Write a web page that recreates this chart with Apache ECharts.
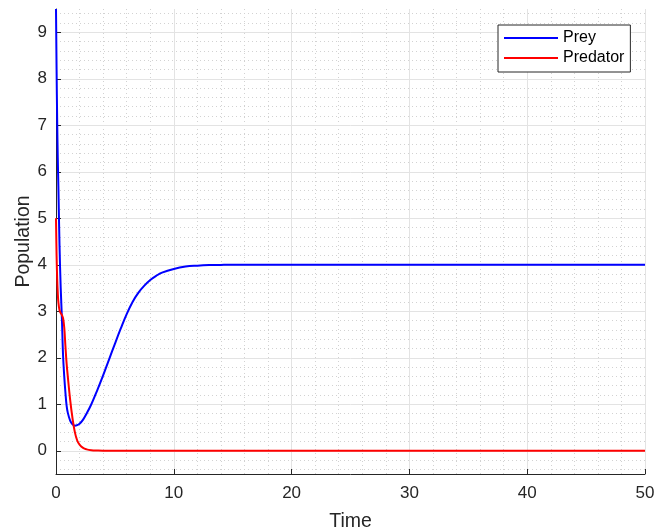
<!DOCTYPE html>
<html>
<head>
<meta charset="utf-8">
<script src="https://cdn.jsdelivr.net/npm/echarts@6/dist/echarts.min.js"></script>
<style>html,body{margin:0;padding:0;background:#fff}#c{width:655px;height:531px}</style>
</head>
<body>
<div id="c"></div>
<script>
const time = [0, 0.05, 0.1, 0.15, 0.2, 0.3, 0.4, 0.5, 0.6, 0.7, 0.8, 0.9, 1.0, 1.2, 1.4, 1.6, 1.8, 2.0, 2.3, 2.6, 3.0, 3.5, 4.0, 4.5, 5.0, 5.5, 6.0, 6.5, 7.0, 7.5, 8.0, 8.5, 9.0, 10, 11, 12, 13, 14, 15, 20, 30, 40, 50];
const prey = [9.5, 8.2, 7.1, 6.3, 5.7, 4.4, 3.5, 2.85, 2.05, 1.6, 1.25, 0.97, 0.82, 0.65, 0.57, 0.54, 0.55, 0.58, 0.67, 0.8, 1.0, 1.3, 1.62, 1.96, 2.3, 2.63, 2.94, 3.2, 3.4, 3.55, 3.67, 3.76, 3.83, 3.91, 3.96, 3.98, 3.992, 3.997, 4.0, 4.0, 4.0, 4.0, 4.0];
const predator = [5, 4.2, 3.7, 3.4, 3.2, 3.02, 2.96, 2.92, 2.85, 2.65, 2.25, 1.88, 1.6, 1.1, 0.7, 0.4, 0.22, 0.13, 0.06, 0.03, 0.012, 0.004, 0, 0, 0, 0, 0, 0, 0, 0, 0, 0, 0, 0, 0, 0, 0, 0, 0, 0, 0, 0, 0];
const seriesNames = ['Prey', 'Predator'];
const xLabel = 'Time';
const yLabel = 'Population';

const txt = '#262626';
const font = 'Liberation Sans, Arial, Helvetica, sans-serif';
const pair = (ys) => time.map((t, i) => [t, ys[i]]);

const chart = echarts.init(document.getElementById('c'), null, {renderer: 'canvas'});
chart.setOption({
  animation: false,
  backgroundColor: '#fff',
  textStyle: {fontFamily: font},
  grid: {left: 56, right: 10, top: 9, bottom: 57, containLabel: false, outerBoundsMode: 'none'},
  legend: {
    orient: 'vertical', left: 498, top: 25,
    icon: 'rect', itemWidth: 54, itemHeight: 2, itemGap: 0,
    padding: [3, 6, 4, 6],
    borderColor: txt, borderWidth: 1, backgroundColor: '#fff',
    textStyle: {fontSize: 16, color: '#000', lineHeight: 20, fontFamily: font},
    data: seriesNames
  },
  xAxis: [{
    type: 'value', min: 0, max: 50, interval: 10, z: 2,
    name: xLabel, nameLocation: 'middle', nameGap: 38, nameMoveOverlap: false,
    nameTextStyle: {fontSize: 19.5, color: txt, fontFamily: font},
    axisLine: {onZero: false, lineStyle: {color: txt, width: 1}},
    axisTick: {inside: true, length: 5, lineStyle: {color: txt}},
    axisLabel: {fontSize: 17, color: txt, margin: 11, fontFamily: font},
    splitLine: {show: true, lineStyle: {color: '#e3e3e3', width: 1}}
  }, {
    type: 'value', min: 0, max: 50, interval: 2, z: 0, position: 'bottom',
    axisLine: {show: false}, axisTick: {show: false}, axisLabel: {show: false},
    splitLine: {show: true, showMinLine: false, lineStyle: {color: '#d2d2d2', width: 1, type: [1, 3]}}
  }],
  yAxis: [{
    type: 'value', min: -0.5, max: 9.5, minInterval: 1, maxInterval: 1, z: 2,
    name: yLabel, nameLocation: 'middle', nameGap: 22, nameMoveOverlap: false,
    nameTextStyle: {fontSize: 19.5, color: txt, fontFamily: font},
    axisLine: {onZero: false, lineStyle: {color: txt, width: 1}},
    axisTick: {inside: true, length: 5, lineStyle: {color: txt}},
    axisLabel: {fontSize: 17, color: txt, margin: 9, showMinLabel: false, showMaxLabel: false, fontFamily: font},
    splitLine: {show: true, showMinLine: false, showMaxLine: false, lineStyle: {color: '#e3e3e3', width: 1}}
  }, {
    type: 'value', min: -0.5, max: 9.5, minInterval: 0.2, maxInterval: 0.2, z: 0, position: 'left',
    axisLine: {show: false}, axisTick: {show: false}, axisLabel: {show: false},
    splitLine: {show: true, showMinLine: false, showMaxLine: false, lineStyle: {color: '#d2d2d2', width: 1, type: [1, 3]}}
  }],
  series: [{
    name: seriesNames[0], type: 'line', xAxisIndex: 0, yAxisIndex: 0,
    data: pair(prey), showSymbol: false, smooth: 0.4,
    lineStyle: {color: '#0000ff', width: 2}, itemStyle: {color: '#0000ff'}, z: 4
  }, {
    name: seriesNames[1], type: 'line', xAxisIndex: 0, yAxisIndex: 0,
    data: pair(predator), showSymbol: false, smooth: 0.4,
    lineStyle: {color: '#ff0000', width: 2}, itemStyle: {color: '#ff0000'}, z: 5
  }]
});
</script>
</body>
</html>
